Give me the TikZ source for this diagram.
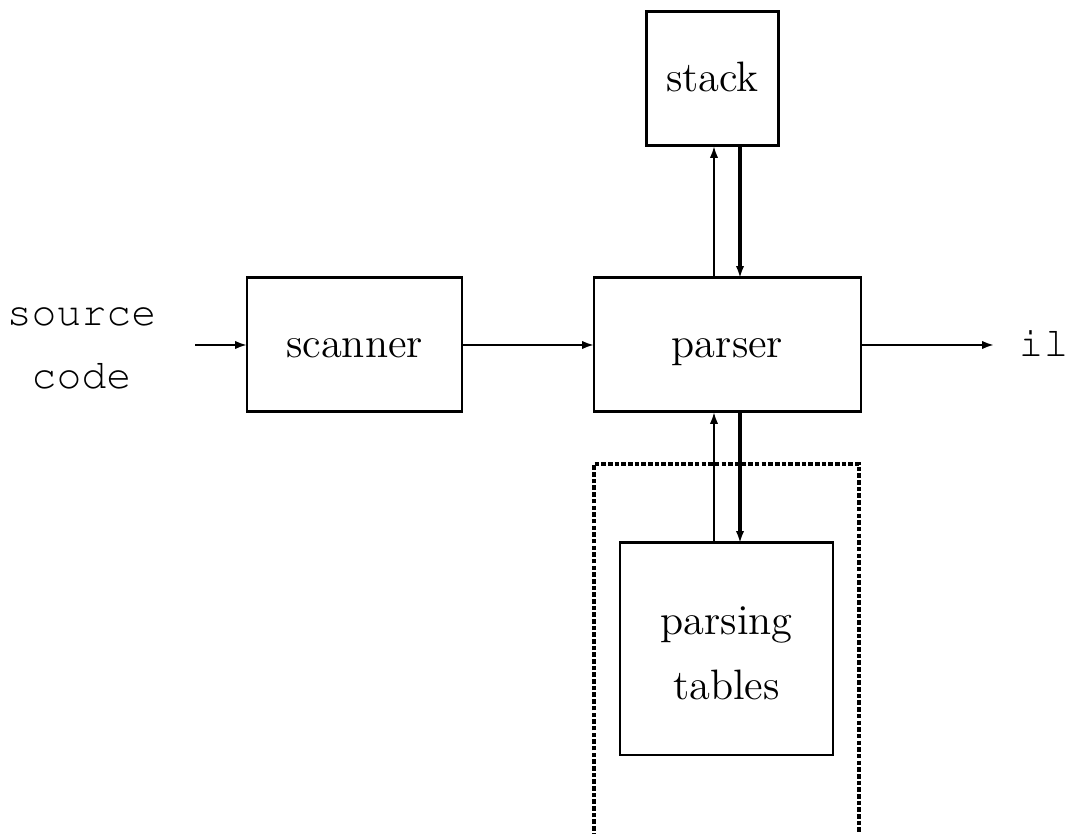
\documentclass[tikz,border=0pt]{standalone}
\usepackage[T1,TU]{fontenc}
\usetikzlibrary{arrows.meta}
\newcommand{\courierfont}{\fontencoding{T1}\fontfamily{pcr}\selectfont}

\begin{document}
\begin{tikzpicture}[x=1cm,y=1cm,inner sep=0pt,outer sep=0pt,line width=0.85pt,
>={Latex[length=3.4pt,width=2.4pt]},
stage/.style={draw,rectangle,line width=0.85pt,font=\fontsize{12.1}{18.6}\selectfont,align=center},
oneline/.style={text height=7.2pt,text depth=0pt},
ttlabel/.style={font=\fontsize{11.8}{17.9}\courierfont,align=center}]

\useasboundingbox (0,0) rectangle (10.73,8.34);

\draw (3.545,4.89) node[stage,oneline,minimum width=2.15cm,minimum height=1.34cm] (scanner) {scanner};
\draw (7.275,4.89) node[stage,oneline,minimum width=2.67cm,minimum height=1.34cm] (parser) {parser};
\draw (7.125,7.55) node[stage,oneline,minimum width=1.32cm,minimum height=1.34cm] (stack) {stack};
\draw (7.265,1.85) node[stage,text height=29pt,text depth=0pt,minimum width=2.13cm,minimum height=2.12cm] (tables) {parsing\\tables};

% dotted frame round the tables, runs off the bottom
\draw[line width=0.9pt,dash pattern=on 1.3pt off 0.6pt] (5.94,-0.3) |- (8.59,3.70) -- (8.59,-0.3);

\draw (0.815,4.88) node[ttlabel,text height=24pt,text depth=0pt] (src) {source\\code};
\draw (10.435,4.89) node[ttlabel,text height=6.8pt,text depth=0pt] (il) {il};
\coordinate (in) at (1.95,4.89);
\coordinate (out) at (9.94,4.89);

\draw[->,line width=0.6pt] (in) -- (scanner.west);
\draw[->,line width=0.6pt] (scanner.east) -- (parser.west);
\draw[->,line width=0.6pt] (parser.east) -- (out);

\draw[->,line width=0.6pt] (7.14,0 |- parser.north) -- (7.14,0 |- stack.south);
\draw[->,line width=1.1pt] (7.40,0 |- stack.south) -- (7.40,0 |- parser.north);
\draw[->,line width=0.6pt] (7.14,0 |- tables.north) -- (7.14,0 |- parser.south);
\draw[->,line width=1.1pt] (7.40,0 |- parser.south) -- (7.40,0 |- tables.north);
\end{tikzpicture}
\end{document}
